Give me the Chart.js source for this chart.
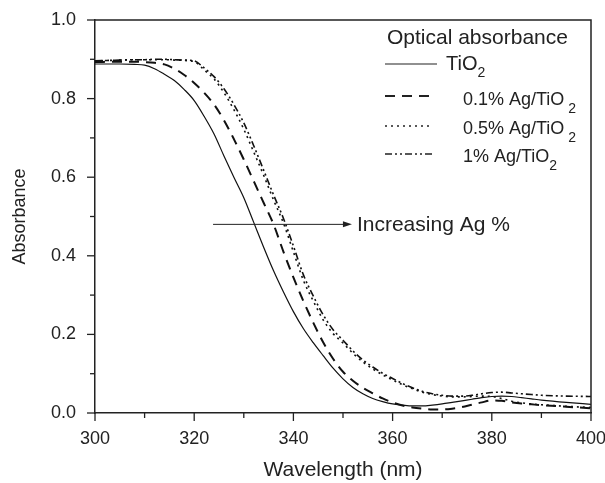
<!DOCTYPE html>
<html>
<head>
<meta charset="utf-8">
<script src="https://cdn.jsdelivr.net/npm/chart.js@4.4.0/dist/chart.umd.min.js"></script>
<style>
  body { margin: 0; background: #fff; }
  #wrap { width: 605px; height: 483px; position: relative; }
</style>
</head>
<body>
<div id="wrap"><canvas id="absChart"></canvas></div>
<script>
// wavelength samples (nm)
const wavelengths = [300, 305, 308, 310, 312, 314, 316, 318, 320, 322, 324, 326, 328, 330, 332, 334,
    336, 338, 340, 342, 344, 346, 348, 350, 352, 354, 356, 358, 360, 362, 364, 366, 368, 370, 372,
    374, 376, 378, 380, 382, 384, 386, 388, 390, 395, 400];

// absorbance
const tio2 = [0.888, 0.888, 0.887, 0.885, 0.876, 0.862, 0.846, 0.823, 0.795, 0.755, 0.710, 0.654,
    0.600, 0.548, 0.485, 0.422, 0.362, 0.308, 0.258, 0.215, 0.179, 0.146, 0.114, 0.087, 0.065, 0.049,
    0.037, 0.029, 0.023, 0.020, 0.018, 0.018, 0.020, 0.023, 0.027, 0.031, 0.035, 0.039, 0.042, 0.043,
    0.042, 0.039, 0.036, 0.033, 0.027, 0.022];
const ag01 = [0.893, 0.894, 0.894, 0.893, 0.891, 0.887, 0.876, 0.86, 0.84, 0.815, 0.785, 0.745,
    0.697, 0.645, 0.590, 0.535, 0.480, 0.410, 0.345, 0.285, 0.230, 0.180, 0.138, 0.105, 0.082, 0.064,
    0.050, 0.037, 0.027, 0.019, 0.014, 0.011, 0.009, 0.009, 0.011, 0.015, 0.021, 0.027, 0.032, 0.031,
    0.027, 0.024, 0.022, 0.020, 0.016, 0.012];
const ag05 = [0.896, 0.898, 0.899, 0.899, 0.899, 0.899, 0.898, 0.897, 0.894, 0.873, 0.850, 0.815,
    0.772, 0.722, 0.664, 0.605, 0.542, 0.483, 0.410, 0.338, 0.285, 0.237, 0.202, 0.178, 0.152, 0.130,
    0.112, 0.097, 0.084, 0.072, 0.062, 0.053, 0.047, 0.043, 0.041, 0.041, 0.042, 0.043, 0.042, 0.037,
    0.030, 0.026, 0.023, 0.021, 0.017, 0.014];
const ag1 = [0.896, 0.898, 0.899, 0.899, 0.900, 0.900, 0.899, 0.898, 0.896, 0.878, 0.856, 0.825,
    0.785, 0.738, 0.680, 0.618, 0.555, 0.495, 0.425, 0.352, 0.298, 0.250, 0.212, 0.185, 0.158, 0.135,
    0.117, 0.101, 0.088, 0.075, 0.064, 0.055, 0.049, 0.045, 0.043, 0.043, 0.045, 0.049, 0.052, 0.053,
    0.051, 0.049, 0.047, 0.045, 0.043, 0.042];

const seriesNames = ['TiO2', '0.1% Ag/TiO2', '0.5% Ag/TiO2', '1% Ag/TiO2'];
const seriesValues = [tio2, ag01, ag05, ag1];
const seriesDashes = [[], [10, 7], [2, 4], [7, 3, 2, 3, 2, 3]];
const seriesWidths = [1.2, 2, 1.6, 1.6];

// arrow annotation, in data units
const arrowFrom = [323.8, 0.48];
const arrowTo = [351.8, 0.48];
const arrowText = 'Increasing Ag %';
const legendTitle = 'Optical absorbance';

const FONT = '"Liberation Sans", Arial, Helvetica, sans-serif';
const INK = '#222';

// frame, minor/major ticks, legend and arrow
const extrasPlugin = {
    id: 'extras',
    afterDraw(chart) {
        const ctx = chart.ctx;
        const a = chart.chartArea;
        const xs = chart.scales.x, ys = chart.scales.y;
        ctx.save();
        ctx.strokeStyle = INK;
        ctx.lineWidth = 1.5;

        // top and right frame
        ctx.beginPath();
        ctx.moveTo(a.left, a.top);
        ctx.lineTo(a.right, a.top);
        ctx.lineTo(a.right, a.bottom);
        ctx.stroke();

        // ticks outside the axes
        ctx.lineWidth = 1.3;
        xs.ticks.forEach(t => {
            const px = xs.getPixelForValue(t.value);
            const len = t.value % 20 === 0 ? 8 : 5;
            ctx.beginPath();
            ctx.moveTo(px, a.bottom);
            ctx.lineTo(px, a.bottom + len);
            ctx.stroke();
        });
        ys.ticks.forEach(t => {
            const py = ys.getPixelForValue(t.value);
            const len = Math.round(t.value * 10) % 2 === 0 ? 8 : 5;
            ctx.beginPath();
            ctx.moveTo(a.left, py);
            ctx.lineTo(a.left - len, py);
            ctx.stroke();
        });

        // arrow
        const x0 = xs.getPixelForValue(arrowFrom[0]), y0 = ys.getPixelForValue(arrowFrom[1]);
        const x1 = xs.getPixelForValue(arrowTo[0]), y1 = ys.getPixelForValue(arrowTo[1]);
        ctx.lineWidth = 1;
        ctx.beginPath();
        ctx.moveTo(x0, y0);
        ctx.lineTo(x1 - 6, y1);
        ctx.stroke();
        ctx.fillStyle = INK;
        ctx.beginPath();
        ctx.moveTo(x1, y1);
        ctx.lineTo(x1 - 9, y1 - 3);
        ctx.lineTo(x1 - 9, y1 + 3);
        ctx.closePath();
        ctx.fill();
        ctx.font = '21px ' + FONT;
        ctx.textBaseline = 'middle';
        ctx.textAlign = 'left';
        ctx.fillText(arrowText, x1 + 5, y1 + 1);

        // legend
        ctx.fillText(legendTitle, 387, 38);
        const rows = [
            { ly: 64, ty: 64, tx: 446, gap: 0 },
            { ly: 96, ty: 100, tx: 463, gap: 4 },
            { ly: 126, ty: 129, tx: 463, gap: 4 },
            { ly: 154, ty: 157, tx: 463, gap: 0 }
        ];
        chart.data.datasets.forEach((ds, i) => {
            const r = rows[i];
            ctx.setLineDash(ds.borderDash || []);
            ctx.lineWidth = ds.borderWidth;
            ctx.beginPath();
            ctx.moveTo(385, r.ly);
            ctx.lineTo(i === 0 ? 437 : 432, r.ly);
            ctx.stroke();
            ctx.setLineDash([]);
            const name = seriesNames[i];
            const main = name.slice(0, -1);
            ctx.font = (i === 0 ? '20px ' : '18px ') + FONT;
            ctx.fillText(main, r.tx, r.ty);
            const w = ctx.measureText(main).width;
            ctx.font = '14px ' + FONT;
            ctx.fillText(name.slice(-1), r.tx + w + r.gap, r.ty + 9);
        });
        ctx.restore();
    }
};

new Chart(document.getElementById('absChart'), {
    type: 'line',
    data: {
        datasets: seriesValues.map((vals, i) => ({
            label: seriesNames[i],
            data: wavelengths.map((w, k) => ({ x: w, y: vals[k] })),
            borderColor: '#111',
            borderWidth: seriesWidths[i],
            borderDash: seriesDashes[i],
            pointRadius: 0,
            fill: false,
            cubicInterpolationMode: 'monotone'
        }))
    },
    options: {
        responsive: true,
        maintainAspectRatio: false,
        animation: false,
        layout: { padding: { top: 20, right: 14, bottom: 0, left: 0 } },
        plugins: { legend: { display: false }, tooltip: { enabled: false } },
        scales: {
            x: {
                type: 'linear',
                min: 300,
                max: 400,
                ticks: {
                    stepSize: 10,
                    autoSkip: false,
                    maxRotation: 0,
                    padding: 7,
                    color: INK,
                    font: { size: 18, family: FONT },
                    callback: v => (v % 20 === 0 ? String(v) : '')
                },
                grid: { drawOnChartArea: false, drawTicks: true, tickLength: 8, color: 'rgba(0,0,0,0)' },
                border: { display: true, color: INK, width: 1.5 },
                title: {
                    display: true,
                    text: 'Wavelength (nm)',
                    color: INK,
                    font: { size: 21, family: FONT },
                    padding: { top: 0, bottom: 0 }
                },
                afterFit: s => { s.height = 70; s.paddingLeft = 0; s.paddingRight = 0; }
            },
            y: {
                min: 0,
                max: 1,
                ticks: {
                    stepSize: 0.1,
                    autoSkip: false,
                    padding: 11,
                    color: INK,
                    font: { size: 18, family: FONT },
                    callback: v => (Math.round(v * 10) % 2 === 0 ? v.toFixed(1) : '')
                },
                grid: { drawOnChartArea: false, drawTicks: true, tickLength: 8, color: 'rgba(0,0,0,0)' },
                border: { display: true, color: INK, width: 1.5 },
                title: {
                    display: true,
                    text: 'Absorbance',
                    color: INK,
                    font: { size: 18, family: FONT },
                    padding: { top: 9, bottom: 0 }
                },
                afterFit: s => { s.width = 95; s.paddingTop = 0; s.paddingBottom = 0; }
            }
        }
    },
    plugins: [extrasPlugin]
});
</script>
</body>
</html>
